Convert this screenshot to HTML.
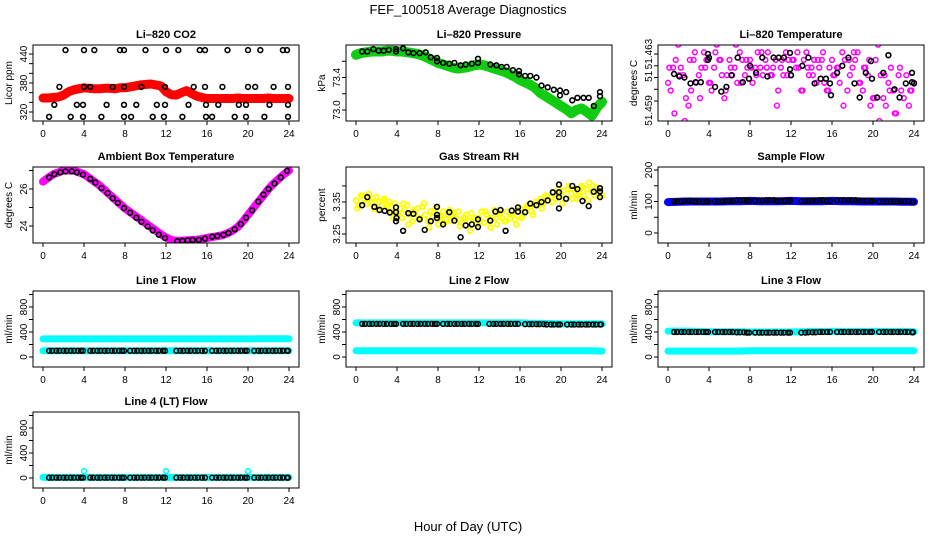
<!DOCTYPE html>
<html><head><meta charset="utf-8"><style>
html,body{margin:0;padding:0;background:#fff}
svg{display:block;font-family:"Liberation Sans",Arial,sans-serif}
</style></head><body>
<svg id="chart" width="936" height="540" viewBox="0 0 936 540" xmlns="http://www.w3.org/2000/svg">
<text x="468" y="14" text-anchor="middle" font-size="13">FEF_100518  Average Diagnostics</text>
<text x="468" y="531" text-anchor="middle" font-size="13">Hour of Day (UTC)</text>
</svg>
<script>
// ---------- data ----------
const hourTicks = [0,4,8,12,16,20,24];
const halfHours = [0,0.5,1,1.5,2,2.5,3,3.5,4,4.5,5,5.5,6,6.5,7,7.5,8,8.5,9,9.5,10,10.5,11,11.5,12,12.5,13,13.5,14,14.5,15,15.5,16,16.5,17,17.5,18,18.5,19,19.5,20,20.5,21,21.5,22,22.5,23,23.5,24];
const quarterHours = [0,0.25,0.5,0.75,1,1.25,1.5,1.75,2,2.25,2.5,2.75,3,3.25,3.5,3.75,4,4.25,4.5,4.75,5,5.25,5.5,5.75,6,6.25,6.5,6.75,7,7.25,7.5,7.75,8,8.25,8.5,8.75,9,9.25,9.5,9.75,10,10.25,10.5,10.75,11,11.25,11.5,11.75,12,12.25,12.5,12.75,13,13.25,13.5,13.75,14,14.25,14.5,14.75,15,15.25,15.5,15.75,16,16.25,16.5,16.75,17,17.25,17.5,17.75,18,18.25,18.5,18.75,19,19.25,19.5,19.75,20,20.25,20.5,20.75,21,21.25,21.5,21.75,22,22.25,22.5,22.75,23,23.25,23.5,23.75,24];
const offHours = [0.125,0.625,1.125,1.625,2.125,2.625,3.125,3.625,4.125,4.625,5.125,5.625,6.125,6.625,7.125,7.625,8.125,8.625,9.125,9.625,10.125,10.625,11.125,11.625,12.125,12.625,13.125,13.625,14.125,14.625,15.125,15.625,16.125,16.625,17.125,17.625,18.125,18.625,19.125,19.625,20.125,20.625,21.125,21.625,22.125,22.625,23.125,23.625];
const hours = [0,1,2,3,4,5,6,7,8,9,10,11,12,13,14,15,16,17,18,19,20,21,22,23,24];

const co2Red = [349,349,350,351,355,362,366,368,370,369,368,368,369,369,368,370,370,372,374,376,377,378,376,374,362,356,355,360,364,358,353,350,348,348,348,348,348,348,349,348,348,348,348,348,349,348,348,348,348];
const co2BlkHours = [2.2,4,5,7.5,7.9,10,12,13.2,15.3,15.8,18,20,21.2,23.4,23.8, 1.6,4,4.6,6.8,7.9,9.6,11.9,14.7,15.8,17.5,20,20.7,22.5,23.9, 1.1,3.3,3.9,6.2,7.9,9.1,11.1,11.9,14.2,15.9,17.1,19.1,19.8,22.1,23.9, 0.6,2.7,3.9,5.7,7.9,8.6,10.7,11.8,13.6,15.9,16.5,18.7,19.8,21.6,23.9];
const co2BlkVals = [448,448,448,448,448,448,448,448,448,448,448,448,448,448,448, 372,372,372,372,372,372,372,372,372,372,372,372,372,372, 335,335,335,335,335,335,335,335,335,335,335,335,335,335,335, 310,310,310,310,310,310,310,310,310,310,310,310,310,310,310];

const presGreen = [73.68,73.70,73.71,73.72,73.72,73.72,73.73,73.73,73.72,73.72,73.71,73.70,73.69,73.67,73.64,73.61,73.58,73.56,73.54,73.52,73.51,73.52,73.53,73.55,73.56,73.55,73.53,73.51,73.49,73.47,73.44,73.41,73.37,73.34,73.31,73.27,73.21,73.17,73.13,73.09,73.05,73.01,72.96,73.0,73.02,72.98,72.93,73.03,73.10];
const presBlkHours = [0.6,1.1,1.7,2.2,2.7,3.2,3.9,3.9,4.6,5.1,5.6,6.2,6.8,7.3,7.9,7.9,8.5,9.1,9.6,10.2,10.7,11.3,11.9,11.9,13.1,13.7,14.2,14.7,15.3,15.9,15.9,16.5,17.0,17.6,18.1,18.7,19.3,19.9,19.9,20.5,21.1,21.6,22.2,22.7,23.2,23.8,23.8];
const presBlkVals = [73.72,73.72,73.75,73.73,73.73,73.74,73.75,73.72,73.76,73.71,73.70,73.70,73.71,73.65,73.64,73.60,73.58,73.57,73.58,73.55,73.56,73.57,73.63,73.58,73.56,73.55,73.53,73.53,73.49,73.48,73.44,73.42,73.42,73.40,73.30,73.28,73.25,73.24,73.18,73.22,73.12,73.15,73.15,73.15,73.05,73.17,73.22];

const tempA = [51.46055,51.45990,51.46185,51.46250,51.46380,51.46185,51.46120,51.45925,51.45860,51.45990,51.46250,51.46055,
51.46120,51.46185,51.46315,51.46250,51.46055,51.45990,51.46185,51.46380,51.46250,51.46120,51.45925,51.46120,
51.46250,51.46120,51.46185,51.46055,51.46315,51.46250,51.46120,51.46185,51.46250,51.46055,51.46185,51.46315,
51.46185,51.46120,51.46250,51.46315,51.46120,51.46185,51.46250,51.45990,51.46185,51.46120,51.46315,51.46250,
51.46120,51.46250,51.46185,51.46185,51.45990,51.46250,51.46315,51.46120,51.46185,51.46250,51.46055,51.46185,
51.46250,51.46055,51.45990,51.46185,51.46250,51.46120,51.46185,51.46055,51.46315,51.46250,51.45990,51.46120,
51.46185,51.46250,51.46315,51.46055,51.45990,51.46185,51.46120,51.45860,51.45925,51.46250,51.46380,51.46120,
51.45925,51.45860,51.46055,51.46185,51.45990,51.45795,51.46120,51.45990,51.45925,51.46120,51.45860,51.45990,
51.46055];
const tempB = [51.46185,51.45795,51.46120,51.45730,51.46250,51.46315,51.45925,51.46185,51.46055,51.46315,51.46250,51.45990,51.46185,51.46380,51.46055,51.46250,51.46185,51.46120,51.46315,51.46185,51.46120,51.45860,51.46250,51.46120,51.46250,51.46315,51.45990,51.46185,51.46120,51.46250,51.46315,51.45990,51.46120,51.46185,51.45860,51.46250,51.46315,51.46055,51.46185,51.46250,51.45925,51.45730,51.46120,51.45990,51.45795,51.46185,51.45665,51.45990];
const tempBlkHours = [0.6,1.1,1.6,2.2,2.7,3.2,3.9,3.9,4.0,4.6,5.2,5.7,6.2,6.8,7.3,7.9,8.0,8.6,9.2,9.7,10.3,10.8,11.3,11.9,11.9,12.0,13.1,13.7,14.3,14.9,15.4,15.8,15.9,16.5,17.0,17.6,18.2,18.7,19.3,19.8,19.9,20.4,21.0,21.5,22.1,22.6,23.2,23.8,23.8,24.0];
const tempBlkVals = [51.4613,51.4611,51.4610,51.4605,51.4606,51.4606,51.4630,51.4625,51.4627,51.4602,51.4598,51.4602,51.4612,51.4627,51.4606,51.4609,51.4620,51.4614,51.4627,51.4611,51.4627,51.4627,51.4627,51.4617,51.4631,51.4612,51.4620,51.4627,51.4605,51.4609,51.4609,51.4605,51.4595,51.4614,51.4620,51.4627,51.4605,51.4593,51.4614,51.4624,51.4609,51.4593,51.4614,51.4629,51.4600,51.4593,51.4605,51.4614,51.4606,51.4605];

const ambBand = [26.4,26.6,26.8,26.9,27.0,27.0,27.0,26.9,26.8,26.6,26.4,26.2,25.95,25.7,25.45,25.2,24.95,24.75,24.55,24.35,24.15,23.95,23.75,23.55,23.38,23.25,23.2,23.2,23.22,23.24,23.26,23.3,23.35,23.4,23.45,23.5,23.6,23.75,23.95,24.25,24.6,24.95,25.3,25.65,26.0,26.3,26.55,26.8,27.0];
const ambBlkHours = [0.6,1.1,1.7,2.2,2.8,3.3,3.9,4.6,5.1,5.7,6.3,6.8,7.3,7.9,8.5,9.1,9.6,10.2,10.7,11.3,11.9,13.1,13.6,14.1,14.6,15.2,15.8,16.5,17.0,17.6,18.1,18.7,19.3,19.8,20.4,21.0,21.5,22.0,22.6,23.2,23.8];
const ambBlkVals = [26.63,26.8,26.9,26.95,26.96,26.9,26.78,26.55,26.35,26.05,25.78,25.5,25.25,24.97,24.72,24.45,24.22,23.98,23.76,23.53,23.35,23.18,23.2,23.22,23.24,23.25,23.32,23.42,23.46,23.52,23.62,23.82,24.1,24.45,24.85,25.32,25.7,26.0,26.3,26.62,26.98];

const rhA = [3.355,3.34,3.37,3.36,3.345,3.375,3.35,3.33,3.365,3.35,3.34,3.36,3.335,3.35,3.32,3.345,3.31,3.33,3.30,3.325,3.34,3.31,3.29,3.32,3.33,3.30,3.335,3.31,3.29,3.32,3.305,3.33,3.28,3.305,3.32,3.295,3.31,3.29,3.315,3.30,3.32,3.285,3.30,3.31,3.29,3.315,3.30,3.28,3.30,3.32,3.285,3.31,3.29,3.30,3.325,3.28,3.31,3.30,3.29,3.32,3.30,3.31,3.295,3.32,3.33,3.305,3.32,3.34,3.335,3.31,3.35,3.34,3.36,3.345,3.37,3.355,3.365,3.38,3.36,3.39,3.37,3.385,3.36,3.40,3.375,3.39,3.36,3.38,3.40,3.37,3.39,3.41,3.38,3.37,3.395,3.385,3.37];
const rhB = [3.33,3.37,3.345,3.36,3.325,3.355,3.34,3.30,3.315,3.345,3.28,3.325,3.30,3.345,3.27,3.315,3.30,3.285,3.325,3.31,3.275,3.30,3.26,3.30,3.29,3.32,3.27,3.30,3.315,3.29,3.31,3.28,3.30,3.335,3.32,3.35,3.33,3.365,3.35,3.38,3.345,3.39,3.36,3.37,3.395,3.355,3.40,3.375];
const rhBlkHours = [0.6,1.1,1.8,2.3,2.8,3.3,3.9,3.9,3.95,3.9,4.6,5.1,5.6,6.2,6.7,7.3,7.9,7.9,7.9,8.5,9.1,9.6,10.2,10.7,11.3,11.9,11.9,13.1,13.6,14.1,14.6,15.2,15.8,15.8,16.5,17.0,17.6,18.1,18.7,19.2,19.8,19.8,19.8,19.8,20.5,21.1,21.6,22.1,22.7,23.2,23.8,23.8,23.8];
const rhBlkVals = [3.34,3.365,3.335,3.325,3.322,3.317,3.318,3.333,3.30,3.29,3.26,3.315,3.313,3.296,3.263,3.29,3.335,3.31,3.30,3.28,3.318,3.292,3.24,3.277,3.28,3.272,3.296,3.292,3.32,3.325,3.26,3.323,3.32,3.333,3.318,3.345,3.34,3.35,3.355,3.38,3.404,3.38,3.365,3.33,3.36,3.40,3.39,3.353,3.337,3.382,3.393,3.383,3.365];

const flowBlkHours = [0.6,0.9,1.3,1.6,2.0,2.3,2.7,3.0,3.4,3.7,3.9,4.6,4.9,5.3,5.6,6.0,6.3,6.7,7.0,7.4,7.7,7.9,8.5,8.9,9.2,9.6,9.9,10.3,10.6,11.0,11.3,11.7,11.9,13.0,13.4,13.7,14.1,14.4,14.8,15.1,15.5,15.8,16.5,16.9,17.2,17.6,17.9,18.3,18.6,19.0,19.3,19.7,19.9,20.6,21.0,21.3,21.7,22.0,22.4,22.7,23.1,23.4,23.8,23.9];
const sampBlue = [98,99,100,100,100,100,101,101,102,101,101,101,102,101,101,101,102,101,101,100,100,100,100,99,99];
const sampBlk = [100,100,102,100,100,100,102,104,103,103,104,102,103,101,103,104,102,104,104,103,102,100,100,101,98];
const l1CyanHi = [290,290,290,290,290,290,290,290,290,290,290,290,290,290,290,290,290,290,290,290,290,292,292,292,292];
const l1CyanLo = [100,100,100,100,100,100,100,100,100,100,100,100,100,100,100,100,100,100,100,100,100,100,100,100,100];
const l1Blk = [100,100,100,100,100,100,100,100,100,100,100,100,100,100,100,100,100,100,100,100,100,100,100,100,100];
const l2CyanHi = [545,545,545,545,545,545,545,545,545,545,545,545,545,545,545,545,545,540,540,535,530,530,530,530,530];
const l2CyanLo = [100,100,100,100,100,100,100,100,100,100,100,100,100,100,100,100,100,100,100,100,100,100,100,100,95];
const l2Blk = [530,530,530,530,530,530,530,530,530,530,530,530,530,530,530,530,530,525,525,520,520,520,520,520,520];
const l3CyanHi = [415,415,415,410,405,405,405,405,400,400,400,400,400,405,410,410,410,410,410,410,410,410,410,410,405];
const l3CyanLo = [95,95,95,95,95,95,95,95,100,100,100,100,100,100,100,100,100,100,100,100,100,100,100,100,100];
const l3Blk = [400,400,400,400,400,400,400,395,390,390,390,390,390,390,395,400,400,400,400,400,400,400,400,400,395];
const l4Cyan = [10,10,10,10,10,10,10,10,10,10,10,10,10,10,10,10,10,10,10,10,10,10,10,10,10];
const l4Blk = [5,5,5,5,5,5,5,5,5,5,5,5,5,5,5,5,5,5,5,5,5,5,5,5,5];
const l4SpikeHours = [4,12,20];
const l4SpikeVals = [110,110,110];

// ---------- drawing ----------
const NS = "http://www.w3.org/2000/svg";
const svg = document.getElementById('chart');
const LEFTS = [33,346,658], TOPS = [45,167,291,412], W = 266, H = 76;
function mk(tag, attrs, parent){ const e = document.createElementNS(NS, tag); for (const k in attrs) e.setAttribute(k, attrs[k]); (parent||svg).appendChild(e); return e; }

function panel(key, col, row, title, ylab, ymin, ymax, ticks, labels, layers){
  const L = LEFTS[col], T = TOPS[row];
  const g = mk('g', {});
  
  
  const xs = h => L + 10 + h * 246 / 24;
  const ys = v => T + H - (v - ymin) / (ymax - ymin) * H;
  const clip = mk('clipPath', {id: 'clip-' + key}, g);
  mk('rect', {x: L, y: T, width: W, height: H}, clip);
  const marks = mk('g', {'clip-path': 'url(#clip-' + key + ')'}, g);
  
  
  layers.forEach(ly => {
    if (ly.band) {
      const pts = ly.hours.map((h, i) => xs(h).toFixed(1) + ',' + ys(ly.vals[i]).toFixed(1)).join(' ');
      const pl = mk('polyline', {points: pts, fill: 'none', stroke: ly.color, 'stroke-width': ly.band, 'stroke-linejoin': 'round', 'stroke-linecap': 'round'}, marks);
      
      
    }
    if (ly.points !== false) {
      ly.hours.forEach((h, i) => {
        const c = mk('circle', {cx: xs(h).toFixed(1), cy: ys(ly.vals[i]).toFixed(1), r: 2.4, fill: 'none', stroke: ly.color, 'stroke-width': ly.sw || 1.3}, marks);
        
        
      });
    }
    if (ly.lookupHours) {
      ly.lookupHours.forEach(h => {
        const v = ly.vals[Math.round(h)];
        const c = mk('circle', {cx: xs(h).toFixed(1), cy: ys(v).toFixed(1), r: 2.4, fill: 'none', stroke: ly.color, 'stroke-width': ly.sw || 1.3}, marks);
        
        
      });
    }
  });
  const box = mk('rect', {x: L, y: T, width: W, height: H, fill: 'none', stroke: '#000', 'stroke-width': 1}, g);
  
  
  const tt = mk('text', {x: L + W / 2, y: T - 7, 'text-anchor': 'middle', 'font-size': 11, 'font-weight': 'bold'}, g);
  tt.textContent = title;
  
  
  hourTicks.forEach(h => {
    mk('line', {x1: xs(h), x2: xs(h), y1: T + H, y2: T + H + 4, stroke: '#000'}, g);
    const t = mk('text', {x: xs(h), y: T + H + 16, 'text-anchor': 'middle', 'font-size': 10}, g);
    t.textContent = h;
    
    
  });
  ticks.forEach(v => { mk('line', {x1: L - 4, x2: L, y1: ys(v), y2: ys(v), stroke: '#000'}, g); });
  labels.forEach(lb => {
    const y = ys(lb.v);
    const t = mk('text', {x: L - 6, y: y, 'text-anchor': 'middle', 'font-size': 10, transform: 'rotate(-90 ' + (L - 6) + ' ' + y + ')'}, g);
    t.textContent = lb.t;
    
    
  });
  const yc = T + H / 2, yx = L - 21;
  const yl = mk('text', {x: yx, y: yc, 'text-anchor': 'middle', 'font-size': 10, transform: 'rotate(-90 ' + yx + ' ' + yc + ')'}, g);
  yl.textContent = ylab;
  
  
}

const flowTicks = [0,200,400,600,800,1000];
const flowLabels = [{v:0,t:'0'},{v:400,t:'400'},{v:800,t:'800'}];

panel('co2', 0, 0, 'Li\u2013820 CO2', 'Licor ppm', 301.4, 458.6, [320,340,360,380,400,420,440], [{v:320,t:'320'},{v:380,t:'380'},{v:440,t:'440'}], [
  {name:'co2-red', hours:halfHours, vals:co2Red, color:'#ff0000', band:9},
  {name:'co2-black', hours:co2BlkHours, vals:co2BlkVals, color:'#000', sw:1.6}
]);
panel('pressure', 1, 0, 'Li\u2013820 Pressure', 'kPa', 72.865, 73.8, [73.0,73.2,73.4,73.6], [{v:73.0,t:'73.0'},{v:73.4,t:'73.4'}], [
  {name:'pressure-green', hours:halfHours, vals:presGreen, color:'#11cc11', band:10},
  {name:'pressure-black', hours:presBlkHours, vals:presBlkVals, color:'#000', sw:1.6}
]);
panel('temperature', 2, 0, 'Li\u2013820 Temperature', 'degrees C', 51.4573, 51.46377, [51.459,51.460,51.461,51.462,51.463], [{v:51.463,t:'51.463'},{v:51.4611,t:'51'},{v:51.4582,t:'51.459'}], [
  {name:'temp-magenta-a', hours:quarterHours, vals:tempA, color:'#ff00ff', sw:1.5},
  {name:'temp-magenta-b', hours:offHours, vals:tempB, color:'#ff00ff', sw:1.5},
  {name:'temp-black', hours:tempBlkHours, vals:tempBlkVals, color:'#000', sw:1.6}
]);
panel('ambient', 0, 1, 'Ambient Box Temperature', 'degrees C', 23.08, 27.19, [24,25,26,27], [{v:24,t:'24'},{v:26,t:'26'}], [
  {name:'ambient-magenta', hours:halfHours, vals:ambBand, color:'#ff00ff', band:8},
  {name:'ambient-black', hours:ambBlkHours, vals:ambBlkVals, color:'#000', sw:1.6}
]);
panel('rh', 1, 1, 'Gas Stream RH', 'percent', 3.222, 3.459, [3.25,3.30,3.35,3.40], [{v:3.25,t:'3.25'},{v:3.35,t:'3.35'}], [
  {name:'rh-yellow-a', hours:quarterHours, vals:rhA, color:'#ffff00', sw:1.8},
  {name:'rh-yellow-b', hours:offHours, vals:rhB, color:'#ffff00', sw:1.8},
  {name:'rh-black', hours:rhBlkHours, vals:rhBlkVals, color:'#000', sw:1.6}
]);
panel('sample-flow', 2, 1, 'Sample Flow', 'ml/min', -31.7, 209.5, [0,50,100,150,200], [{v:0,t:'0'},{v:100,t:'100'},{v:200,t:'200'}], [
  {name:'sample-blue', hours:hours, vals:sampBlue, color:'#0000ff', band:8, points:false},
  {name:'sample-black', hours:[], vals:sampBlk, color:'#000', lookupHours:flowBlkHours, sw:1.5}
]);
panel('line1', 0, 2, 'Line 1 Flow', 'ml/min', -160, 1056, flowTicks, flowLabels, [
  {name:'line1-cyan-high', hours:hours, vals:l1CyanHi, color:'#00ffff', band:7, points:false},
  {name:'line1-cyan-low', hours:hours, vals:l1CyanLo, color:'#00ffff', band:7, points:false},
  {name:'line1-black', hours:[], vals:l1Blk, color:'#000', lookupHours:flowBlkHours, sw:1.5}
]);
panel('line2', 1, 2, 'Line 2 Flow', 'ml/min', -160, 1056, flowTicks, flowLabels, [
  {name:'line2-cyan-high', hours:hours, vals:l2CyanHi, color:'#00ffff', band:7, points:false},
  {name:'line2-cyan-low', hours:hours, vals:l2CyanLo, color:'#00ffff', band:7, points:false},
  {name:'line2-black', hours:[], vals:l2Blk, color:'#000', lookupHours:flowBlkHours, sw:1.5}
]);
panel('line3', 2, 2, 'Line 3 Flow', 'ml/min', -160, 1056, flowTicks, flowLabels, [
  {name:'line3-cyan-high', hours:hours, vals:l3CyanHi, color:'#00ffff', band:7, points:false},
  {name:'line3-cyan-low', hours:hours, vals:l3CyanLo, color:'#00ffff', band:7, points:false},
  {name:'line3-black', hours:[], vals:l3Blk, color:'#000', lookupHours:flowBlkHours, sw:1.5}
]);
panel('line4', 0, 3, 'Line 4 (LT) Flow', 'ml/min', -160, 1056, flowTicks, flowLabels, [
  {name:'line4-cyan', hours:hours, vals:l4Cyan, color:'#00ffff', band:7, points:false},
  {name:'line4-cyan-spike', hours:l4SpikeHours, vals:l4SpikeVals, color:'#00ffff', sw:1.6},
  {name:'line4-black', hours:[], vals:l4Blk, color:'#000', lookupHours:flowBlkHours, sw:1.5}
]);
</script>
</body></html>
